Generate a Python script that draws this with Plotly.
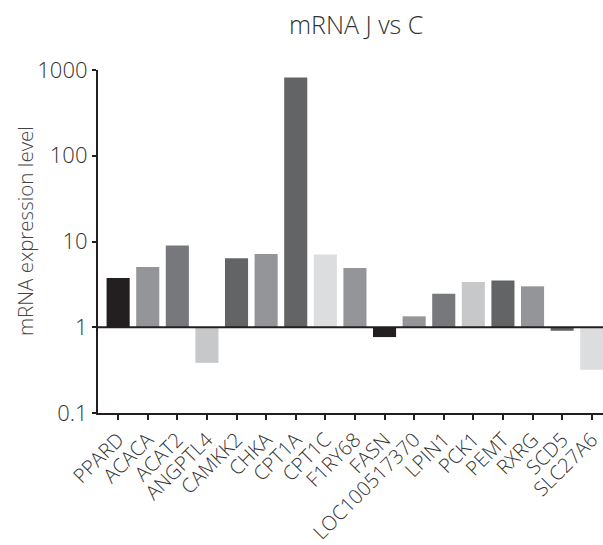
import plotly.graph_objects as go

genes = ["PPARD", "ACACA", "ACAT2", "ANGPTL4", "CAMKK2", "CHKA", "CPT1A", "CPT1C",
         "F1RY68", "FASN", "LOC100517370", "LPIN1", "PCK1", "PEMT", "RXRG", "SCD5", "SLC27A6"]
expression = [3.76, 5.05, 8.97, 0.385, 6.37, 7.17, 818, 7.04,
              4.92, 0.768, 1.34, 2.46, 3.38, 3.52, 3.0, 0.91, 0.32]
bar_colors = ["#231f20", "#939598", "#77787b", "#c7c8ca", "#636466", "#939598", "#636466", "#dcdddf",
              "#939598", "#231f20", "#939598", "#77787b", "#c7c8ca", "#636466", "#939598", "#636466", "#dcdddf"]
y_ticks = [0.1, 1, 10, 100, 1000]
y_tick_labels = ["0.1", "1", "10", "100", "1000"]
baseline = 1

FONT = "Open Sans, Lato, sans-serif"
INK = "#231f20"
TXT = "#333333"

fig = go.Figure()
fig.add_trace(go.Bar(
    x=genes,
    y=[v - baseline for v in expression],
    base=[baseline] * len(genes),
    customdata=expression,
    hovertemplate="%{x}: %{customdata}<extra></extra>",
    marker=dict(color=bar_colors, line=dict(width=0)),
    width=0.78,
))

fig.add_shape(type="line", xref="paper", x0=0, x1=1, yref="y", y0=baseline, y1=baseline,
              line=dict(color=INK, width=2.2))

# chart title
fig.add_annotation(text="mRNA J vs C", xref="paper", yref="paper",
                   x=(356 - 98) / 505, y=1 + (70 - 24) / 343,
                   xanchor="center", yanchor="middle", showarrow=False,
                   font=dict(family=FONT, size=25, color=TXT, weight=300))
# y-axis title
fig.add_annotation(text="mRNA expression level", xref="paper", yref="paper",
                   x=-(98 - 25) / 505, y=(413 - 231) / 343, textangle=-90,
                   xanchor="center", yanchor="middle", showarrow=False,
                   font=dict(family=FONT, size=20.5, color="#444444", weight=300))

fig.update_layout(
    width=603, height=545,
    margin=dict(l=98, r=0, t=70, b=132, autoexpand=False),
    paper_bgcolor="white", plot_bgcolor="white",
    showlegend=False,
    font=dict(family=FONT, color=INK, size=20, weight=300),
    xaxis=dict(
        range=[-0.68, 16.38], automargin=False,
        showline=True, linecolor=INK, linewidth=2.2,
        ticks="outside", ticklen=5, tickwidth=2, tickcolor=INK,
        tickangle=-45, tickfont=dict(size=20, color=TXT, weight=300),
        showgrid=False, zeroline=False,
    ),
    yaxis=dict(
        type="log", range=[-1, 3], automargin=False,
        tickvals=y_ticks, ticktext=y_tick_labels,
        showline=True, linecolor=INK, linewidth=2.2,
        ticks="outside", ticklen=4, tickwidth=2, tickcolor=INK,
        tickfont=dict(size=22, color=TXT, weight=300),
        showgrid=False, zeroline=False,
    ),
)

fig.write_html("out.html")
